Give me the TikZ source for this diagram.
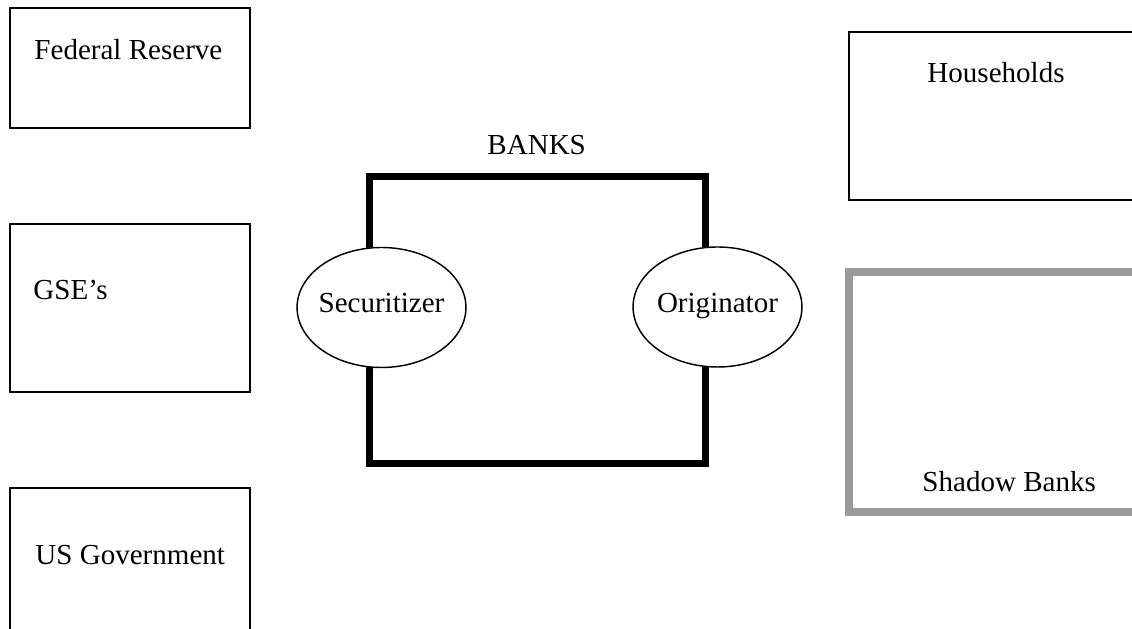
\documentclass[tikz,border=0pt]{standalone}
\usepackage{fontspec}
\setmainfont{Liberation Serif}
\usetikzlibrary{shapes.geometric}
\definecolor{shadowgray}{RGB}{153,153,153}
\tikzset{
  box/.style={draw, line width=0.6pt},
  bankbox/.style={draw, line width=2.9pt},
  shadowbox/.style={draw=shadowgray, line width=2.9pt},
  oval/.style={ellipse, draw, line width=0.6pt, fill=white, inner xsep=-2pt,
    text height=8pt, text depth=3.5pt,
    minimum width=69.8pt, minimum height=49.6pt},
  lbl/.style={anchor=base west, inner sep=0pt, font=\fontsize{12}{14}\selectfont}
}
\begin{document}
\begin{tikzpicture}[x=0.4133pt, y=-0.4133pt]
\clip (0,0) rectangle (1132,629);

% left column
\draw [box] (10,8) rectangle (250,128);
\node [lbl] (fed) at (34,60) {Federal Reserve};

\draw [box] (10,224) rectangle (250,392);
\node [lbl] (gse) at (33,300) {GSE’s};

\draw [box] (10,488) rectangle (250,660);
\node [lbl] (usgov) at (35,565) {US Government};

% banks
\draw [bankbox] (369.5,177) rectangle (705.5,463.5);
\node [lbl] (banks) at (487,155) {BANKS};
\node [oval, font=\fontsize{12}{14}\selectfont] (sec) at (381.5,307.5) {Securitizer};
\node [oval, font=\fontsize{12}{14}\selectfont] (orig) at (717.5,307) {Originator};

% right column
\draw [box] (849,32) rectangle (1160,200);
\node [lbl] (house) at (927,83) {Households};

\draw [shadowbox] (849,272) rectangle (1160,512);
\node [lbl] (shadow) at (922,492) {Shadow Banks};

\end{tikzpicture}
\end{document}
